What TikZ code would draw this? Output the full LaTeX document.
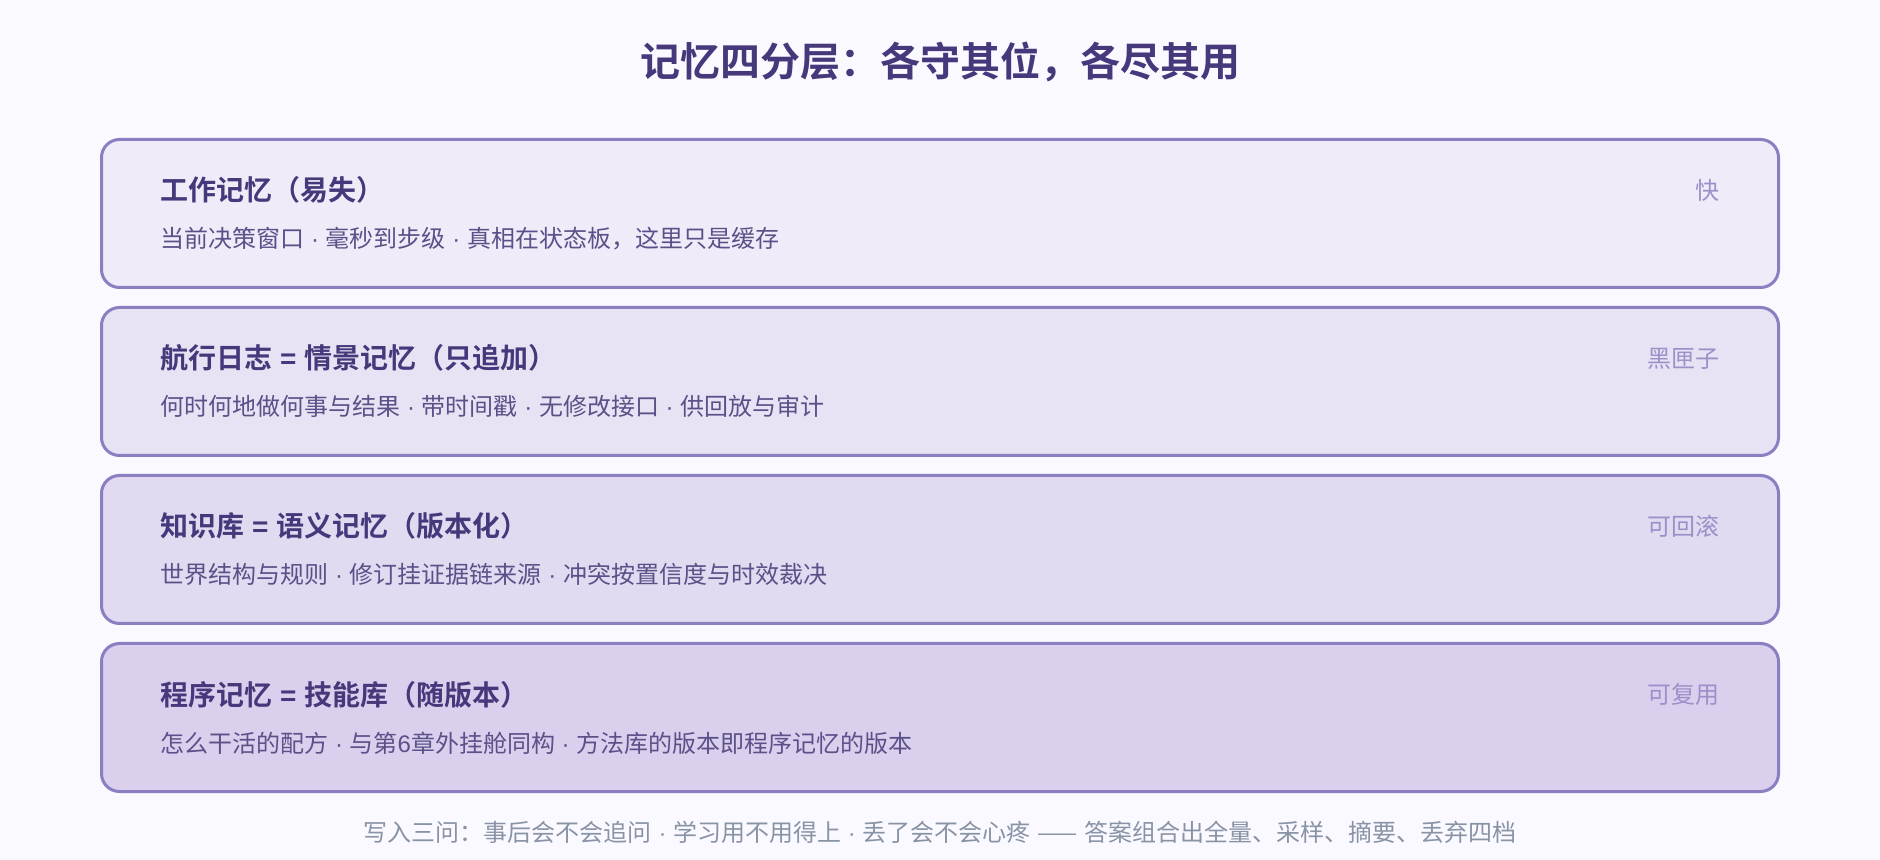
\documentclass[tikz,border=0pt]{standalone}
\usepackage{fontspec}
\setmainfont{Noto Sans CJK SC}[BoldFont={Noto Sans CJK SC Bold}]
\newfontfamily\latinfont{Liberation Sans}
\usepackage{tikz}

\definecolor{pagebg}{HTML}{FAF9FF}
\definecolor{layerline}{HTML}{8C7FC1}
\definecolor{fillwork}{HTML}{EFEBF8}
\definecolor{filllog}{HTML}{E8E3F4}
\definecolor{fillknow}{HTML}{E1DAF0}
\definecolor{fillskill}{HTML}{DAD0EE}
\definecolor{headtext}{HTML}{46387A}
\definecolor{subtext}{HTML}{5C5088}
\definecolor{tagtext}{HTML}{9C90C8}
\definecolor{foottext}{HTML}{8893A6}

% latin pieces set in a latin face
\newcommand{\sepdot}{{\latinfont\space·\space}}
\newcommand{\eqsign}{{\latinfont\space=\space}}

\tikzset{
  layerbox/.style={draw=layerline, line width=1.5pt, rounded corners=9pt,
    minimum width=838.5pt, minimum height=74pt, inner sep=0pt},
  layerhead/.style={anchor=base west, inner sep=0pt, text=headtext,
    font=\bfseries\fontsize{14pt}{16pt}\selectfont},
  layersub/.style={anchor=base west, inner sep=0pt, text=subtext,
    font=\fontsize{12pt}{14pt}\selectfont},
  layertag/.style={anchor=base east, inner sep=0pt, text=tagtext,
    font=\fontsize{12pt}{14pt}\selectfont}
}

\begin{document}
\begin{tikzpicture}[x=0.5pt, y=-0.5pt]
  \fill[pagebg] (0,0) rectangle (1880,860);
  \useasboundingbox (0,0) rectangle (1880,860);

  \node[inner sep=0pt, anchor=base, text=headtext,
    font=\bfseries\fontsize{20pt}{24pt}\selectfont] (maintitle) at (940,77)
    {记忆四分层：各守其位，各尽其用};

  % layer 1
  \node[layerbox, fill=fillwork] (work) at (940,213.5) {};
  \node[layerhead] (workhead) at (160,201) {工作记忆（易失）};
  \node[layersub] (worksub) at (160,248) {当前决策窗口\sepdot 毫秒到步级\sepdot 真相在状态板，这里只是缓存};
  \node[layertag] (worktag) at (1720,200) {快};

  % layer 2
  \node[layerbox, fill=filllog] (log) at (940,381.5) {};
  \node[layerhead] (loghead) at (160,369) {航行日志\eqsign 情景记忆（只追加）};
  \node[layersub] (logsub) at (160,416) {何时何地做何事与结果\sepdot 带时间戳\sepdot 无修改接口\sepdot 供回放与审计};
  \node[layertag] (logtag) at (1720,368) {黑匣子};

  % layer 3
  \node[layerbox, fill=fillknow] (know) at (940,549.5) {};
  \node[layerhead] (knowhead) at (160,537) {知识库\eqsign 语义记忆（版本化）};
  \node[layersub] (knowsub) at (160,584) {世界结构与规则\sepdot 修订挂证据链来源\sepdot 冲突按置信度与时效裁决};
  \node[layertag] (knowtag) at (1720,536) {可回滚};

  % layer 4
  \node[layerbox, fill=fillskill] (skill) at (940,717.5) {};
  \node[layerhead] (skillhead) at (160,705) {程序记忆\eqsign 技能库（随版本）};
  \node[layersub] (skillsub) at (160,752) {怎么干活的配方\sepdot 与第{\latinfont 6}章外挂舱同构\sepdot 方法库的版本即程序记忆的版本};
  \node[layertag] (skilltag) at (1720,704) {可复用};

  \node[inner sep=0pt, anchor=base, text=foottext,
    font=\fontsize{12pt}{14pt}\selectfont] (footnote) at (940,841)
    {写入三问：事后会不会追问\sepdot 学习用不用得上\sepdot 丢了会不会心疼{\latinfont\space}——{\latinfont\space}答案组合出全量、采样、摘要、丢弃四档};
\end{tikzpicture}
\end{document}
